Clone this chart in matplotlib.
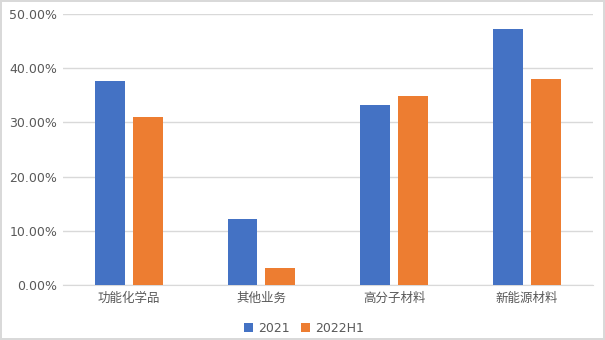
import numpy as np
import matplotlib
matplotlib.use("Agg")
import matplotlib.pyplot as plt
from matplotlib.ticker import PercentFormatter

plt.rcParams["font.family"] = ["Noto Sans CJK SC", "DejaVu Sans"]

# data
categories = ["功能化学品", "其他业务", "高分子材料", "新能源材料"]
series_names = ["2021", "2022H1"]
values_2021 = [37.6, 12.2, 33.2, 47.2]
values_2022h1 = [31.0, 3.1, 34.9, 38.0]
colors = ["#4472C4", "#ED7D31"]

fig = plt.figure(figsize=(6.05, 3.4), dpi=100)
fig.patch.set_edgecolor("#D9D9D9")
fig.patch.set_linewidth(1.5)
ax = fig.add_axes([0.1035, 0.162, 0.8765, 0.797])

x = np.arange(len(categories))
w = 0.226
off = 0.143
ax.bar(x - off, values_2021, w, color=colors[0], label=series_names[0], zorder=3)
ax.bar(x + off, values_2022h1, w, color=colors[1], label=series_names[1], zorder=3)

ax.set_xlim(-0.5, len(categories) - 0.5)
ax.set_ylim(0, 50)
ax.set_yticks(np.arange(0, 51, 10))
ax.yaxis.set_major_formatter(PercentFormatter(decimals=2))
ax.set_xticks(x)
ax.set_xticklabels(categories)
ax.grid(axis="y", color="#D9D9D9", linewidth=1, zorder=0)
for s in ["top", "right", "left"]:
    ax.spines[s].set_visible(False)
ax.spines["bottom"].set_color("#D9D9D9")
ax.tick_params(length=0, labelsize=9, labelcolor="#595959")
ax.tick_params(axis="x", pad=5)
ax.tick_params(axis="y", pad=4)
for t in ax.get_yticklabels():
    t.set_family("DejaVu Sans")

leg = ax.legend(loc="lower center", bbox_to_anchor=(0.455, -0.225), ncol=2, frameon=False,
                fontsize=9, labelcolor="#595959", handlelength=0.7, handleheight=0.7,
                handletextpad=0.4, columnspacing=0.9, prop={"family": "DejaVu Sans", "size": 9})

fig.savefig("out.png", dpi=100)
